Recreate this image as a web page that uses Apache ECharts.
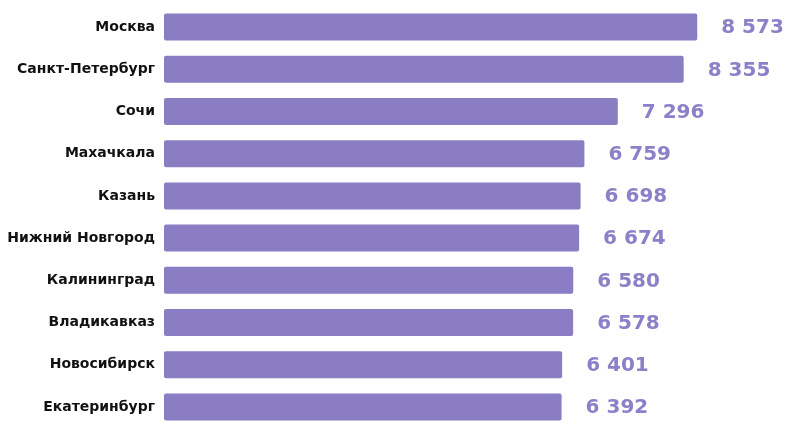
<!DOCTYPE html>
<html><head><meta charset="utf-8">
<script src="https://cdn.jsdelivr.net/npm/echarts@6/dist/echarts.min.js"></script>
<style>html,body{margin:0;padding:0;background:#fff}#c{width:788px;height:444px}</style>
</head><body><div id="c"></div>
<script>
const cities = ["Москва","Санкт-Петербург","Сочи","Махачкала","Казань","Нижний Новгород","Калининград","Владикавказ","Новосибирск","Екатеринбург"];
const values = [8573,8355,7296,6759,6698,6674,6580,6578,6401,6392];
const chart = echarts.init(document.getElementById('c'));
chart.setOption({
  animation:false,
  grid:{left:164,width:622,top:6,height:422},
  xAxis:{type:'value',min:0,max:10000,show:false},
  yAxis:{type:'category',data:cities,inverse:true,
    axisLine:{show:false},axisTick:{show:false},
    axisLabel:{margin:9,color:'#111',fontSize:14,fontWeight:'bold',fontFamily:'"DejaVu Sans"'}},
  series:[{type:'bar',data:values,barWidth:27,
    itemStyle:{color:'#8b7dc4',borderRadius:2},
    label:{show:true,position:'right',distance:24,offset:[0,1],color:'#8d80c8',fontSize:20,fontWeight:'bold',fontFamily:'"DejaVu Sans"',
      formatter:p=>String(p.value).replace(/\B(?=(\d{3})+(?!\d))/g,' ')}}]
});
</script></body></html>
